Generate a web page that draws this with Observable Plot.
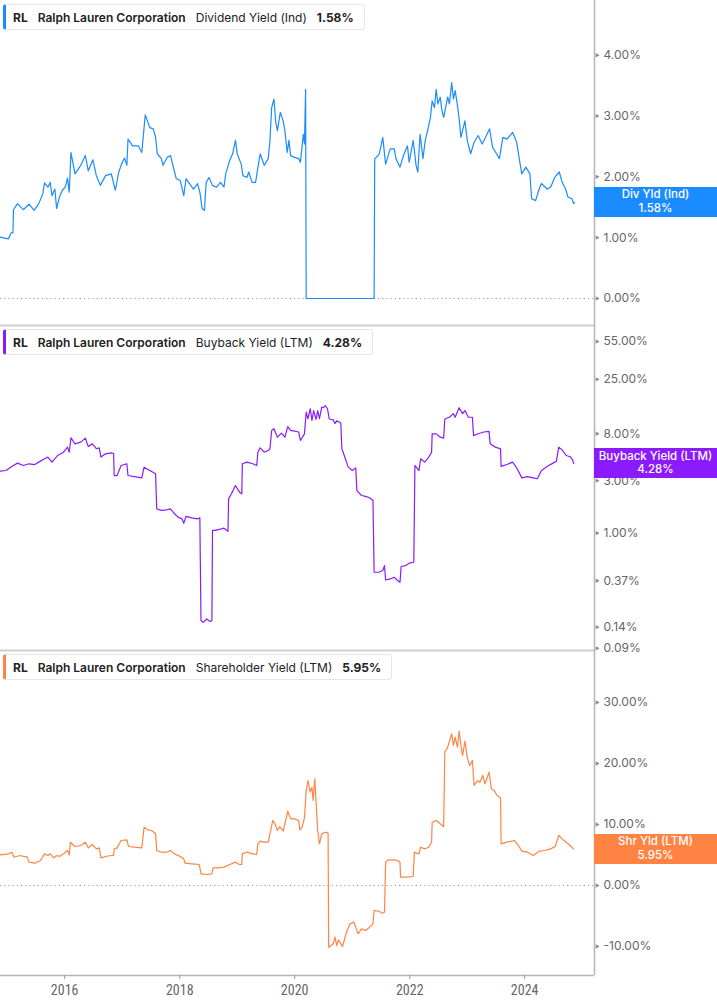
<!DOCTYPE html>
<html><head><meta charset="utf-8">
<script src="https://cdn.jsdelivr.net/npm/d3@7"></script>
<script src="https://cdn.jsdelivr.net/npm/@observablehq/plot@0.6"></script>
<style>
body{margin:0;background:#fff;}
#wrap{position:relative;width:717px;height:1005px;overflow:hidden;font-family:Inter,"Noto Sans",sans-serif;}
.panel{position:absolute;left:0;width:717px;}
.panel svg{display:block;}
.legend{position:absolute;left:3px;top:4px;height:24px;display:flex;align-items:center;background:#fff;border:1px solid #e6e6e6;border-left:3px solid;border-radius:3px;padding:0 10px 0 7px;font-size:12px;color:#222;white-space:nowrap;}
.legend span{margin-right:10px}
.legend .t{font-weight:700;margin-right:10px}
.legend .n{font-weight:600}
.legend .v{font-weight:700;margin-right:0}
.badge{position:absolute;left:594px;width:123px;height:30px;color:#fff;font-size:11.5px;font-weight:500;text-align:center;line-height:13.5px;display:flex;flex-direction:column;justify-content:center;}
</style></head>
<body><div id="wrap"></div>
<script>
// ---- data (decimal year, percent) ----
const ticker = "RL";
const company = "Ralph Lauren Corporation";
const metricNames = ["Dividend Yield (Ind)", "Buyback Yield (LTM)", "Shareholder Yield (LTM)"];
const badgeNames = ["Div Yld (Ind)", "Buyback Yield (LTM)", "Shr Yld (LTM)"];
const lastValues = [1.58, 4.28, 5.95];
const divTicks = [0, 1, 2, 3, 4];
const buybackTicks = [55, 25, 8, 3, 1, 0.37, 0.14, 0.09];
const shrTicks = [-10, 0, 10, 20, 30];
const xTickYears = [2016, 2018, 2020, 2022, 2024];

const dividendYield = [[2014.88,1.01],[2015.02,0.98],[2015.07,1.08],[2015.10,1.08],[2015.11,1.46],[2015.18,1.56],[2015.28,1.46],[2015.38,1.55],[2015.47,1.45],[2015.55,1.56],[2015.62,1.72],[2015.65,1.90],[2015.71,1.83],[2015.75,1.91],[2015.78,1.69],[2015.83,1.80],[2015.86,1.48],[2015.91,1.67],[2015.96,1.78],[2016.01,1.83],[2016.05,1.98],[2016.08,1.75],[2016.11,2.40],[2016.18,2.05],[2016.28,2.19],[2016.36,2.35],[2016.41,2.10],[2016.49,2.28],[2016.55,2.02],[2016.62,1.86],[2016.71,2.02],[2016.81,2.05],[2016.88,1.78],[2016.94,2.08],[2017.00,2.24],[2017.04,2.31],[2017.08,2.19],[2017.10,2.62],[2017.18,2.51],[2017.28,2.51],[2017.34,2.40],[2017.40,3.02],[2017.48,2.81],[2017.54,2.79],[2017.58,2.65],[2017.61,2.38],[2017.68,2.30],[2017.71,2.19],[2017.78,2.32],[2017.84,2.35],[2017.91,2.08],[2017.94,1.97],[2018.01,1.94],[2018.07,1.69],[2018.11,1.97],[2018.17,1.89],[2018.24,1.80],[2018.31,1.89],[2018.35,1.75],[2018.39,1.48],[2018.43,1.45],[2018.46,1.91],[2018.51,1.99],[2018.57,1.86],[2018.64,1.83],[2018.71,1.91],[2018.77,1.83],[2018.80,2.05],[2018.87,2.27],[2018.92,2.38],[2018.97,2.60],[2019.00,2.38],[2019.07,2.21],[2019.10,2.02],[2019.17,1.99],[2019.20,2.08],[2019.26,1.91],[2019.32,1.91],[2019.37,2.21],[2019.40,2.38],[2019.47,2.19],[2019.54,2.30],[2019.57,2.60],[2019.60,3.14],[2019.64,3.28],[2019.67,2.90],[2019.70,2.76],[2019.75,3.06],[2019.80,2.92],[2019.83,2.76],[2019.87,2.40],[2019.90,2.60],[2019.93,2.35],[2020.00,2.32],[2020.07,2.30],[2020.10,2.24],[2020.15,2.70],[2020.17,2.54],[2020.19,3.44],[2020.20,0.00],[2021.38,0.00],[2021.39,2.30],[2021.43,2.33],[2021.47,2.38],[2021.53,2.65],[2021.58,2.21],[2021.66,2.46],[2021.73,2.46],[2021.76,2.30],[2021.83,2.16],[2021.89,2.35],[2021.96,2.51],[2021.99,2.24],[2022.06,2.60],[2022.11,2.19],[2022.14,2.08],[2022.18,2.70],[2022.23,2.30],[2022.27,2.60],[2022.31,2.76],[2022.36,2.98],[2022.39,3.25],[2022.43,3.14],[2022.46,3.44],[2022.49,3.20],[2022.53,3.31],[2022.56,3.09],[2022.59,2.98],[2022.66,3.31],[2022.69,3.20],[2022.73,3.55],[2022.76,3.28],[2022.79,3.42],[2022.83,3.17],[2022.86,2.95],[2022.89,2.65],[2022.96,2.92],[2023.00,2.60],[2023.06,2.38],[2023.12,2.57],[2023.19,2.68],[2023.26,2.54],[2023.32,2.65],[2023.39,2.79],[2023.44,2.49],[2023.51,2.38],[2023.56,2.30],[2023.62,2.65],[2023.69,2.62],[2023.79,2.73],[2023.86,2.57],[2023.91,2.27],[2023.95,2.05],[2024.02,2.16],[2024.09,2.05],[2024.12,1.64],[2024.19,1.61],[2024.25,1.80],[2024.29,1.89],[2024.39,1.80],[2024.45,1.83],[2024.52,1.99],[2024.60,2.08],[2024.65,1.91],[2024.71,1.80],[2024.75,1.67],[2024.82,1.64],[2024.85,1.56],[2024.86,1.58]];

const buybackYield = [[2014.88,3.66],[2014.98,3.71],[2015.08,4.04],[2015.18,4.33],[2015.28,4.12],[2015.38,4.27],[2015.48,4.20],[2015.55,4.42],[2015.65,4.74],[2015.71,4.91],[2015.78,4.42],[2015.88,5.08],[2015.98,5.44],[2016.05,6.05],[2016.08,5.44],[2016.11,7.36],[2016.18,6.48],[2016.28,6.71],[2016.36,7.31],[2016.41,6.12],[2016.48,6.48],[2016.55,5.85],[2016.60,5.95],[2016.63,4.91],[2016.71,5.26],[2016.81,5.37],[2016.85,5.30],[2016.86,3.34],[2016.91,3.34],[2016.98,4.12],[2017.08,4.27],[2017.10,3.34],[2017.21,3.27],[2017.34,3.18],[2017.38,3.98],[2017.48,3.71],[2017.58,3.46],[2017.60,1.66],[2017.68,1.61],[2017.77,1.63],[2017.84,1.66],[2017.91,1.50],[2017.97,1.40],[2018.04,1.35],[2018.07,1.23],[2018.11,1.42],[2018.21,1.38],[2018.31,1.35],[2018.35,1.38],[2018.37,0.161],[2018.41,0.155],[2018.47,0.166],[2018.53,0.158],[2018.56,0.161],[2018.57,1.06],[2018.61,1.06],[2018.71,1.09],[2018.77,1.11],[2018.84,1.04],[2018.85,2.05],[2018.90,2.28],[2018.97,2.71],[2019.04,2.36],[2019.08,2.28],[2019.09,4.27],[2019.17,4.42],[2019.27,4.27],[2019.34,4.12],[2019.36,5.44],[2019.40,5.96],[2019.47,5.44],[2019.54,5.63],[2019.57,5.84],[2019.60,8.58],[2019.64,8.89],[2019.70,7.45],[2019.77,8.10],[2019.83,7.45],[2019.88,9.30],[2019.93,8.58],[2020.00,8.45],[2020.07,8.30],[2020.10,6.95],[2020.17,7.98],[2020.20,12.6],[2020.23,10.9],[2020.27,13.5],[2020.30,10.6],[2020.33,13.0],[2020.37,10.8],[2020.40,13.0],[2020.43,11.0],[2020.47,14.0],[2020.50,13.8],[2020.53,14.4],[2020.57,13.5],[2020.60,10.9],[2020.67,10.7],[2020.70,9.9],[2020.73,10.5],[2020.80,10.0],[2020.82,5.84],[2020.86,5.08],[2020.93,3.98],[2021.00,3.71],[2021.06,3.92],[2021.08,2.44],[2021.16,2.20],[2021.23,2.16],[2021.30,2.10],[2021.36,1.98],[2021.38,0.442],[2021.46,0.442],[2021.53,0.458],[2021.56,0.508],[2021.58,0.376],[2021.66,0.384],[2021.73,0.398],[2021.79,0.371],[2021.83,0.358],[2021.85,0.498],[2021.93,0.508],[2021.99,0.534],[2022.07,0.545],[2022.09,4.12],[2022.16,3.71],[2022.19,4.74],[2022.26,4.42],[2022.33,4.91],[2022.38,5.44],[2022.39,7.98],[2022.46,7.98],[2022.53,7.45],[2022.59,7.30],[2022.61,10.9],[2022.69,11.3],[2022.76,12.2],[2022.79,11.3],[2022.86,13.8],[2022.92,12.2],[2022.96,13.0],[2023.02,11.3],[2023.09,11.3],[2023.11,7.7],[2023.19,8.0],[2023.29,8.3],[2023.38,8.4],[2023.40,6.48],[2023.49,6.05],[2023.58,5.84],[2023.59,4.04],[2023.69,4.21],[2023.79,4.42],[2023.86,3.93],[2023.95,3.18],[2024.05,3.27],[2024.15,3.18],[2024.22,3.12],[2024.29,3.71],[2024.39,4.04],[2024.49,4.33],[2024.55,4.51],[2024.59,6.05],[2024.65,5.71],[2024.72,5.08],[2024.79,4.95],[2024.83,4.64],[2024.85,4.28]];

const shareholderYield = [[2014.88,5.03],[2015.02,5.19],[2015.08,5.46],[2015.12,4.64],[2015.22,4.92],[2015.35,4.64],[2015.38,3.83],[2015.48,3.66],[2015.58,4.10],[2015.65,5.19],[2015.71,4.92],[2015.75,5.19],[2015.81,4.54],[2015.87,4.92],[2015.91,4.75],[2015.98,5.19],[2016.05,5.74],[2016.08,5.03],[2016.10,7.10],[2016.18,6.39],[2016.28,6.56],[2016.36,7.10],[2016.41,6.17],[2016.48,6.72],[2016.55,6.01],[2016.60,6.17],[2016.63,4.54],[2016.71,4.75],[2016.81,4.92],[2016.85,4.92],[2016.86,6.01],[2016.91,6.17],[2016.98,7.38],[2017.08,7.49],[2017.11,6.39],[2017.21,6.28],[2017.34,6.17],[2017.38,9.56],[2017.44,9.13],[2017.51,9.02],[2017.58,8.47],[2017.60,5.74],[2017.68,5.46],[2017.77,5.46],[2017.84,5.74],[2017.91,5.19],[2018.01,4.75],[2018.07,4.37],[2018.09,3.66],[2018.21,3.55],[2018.34,3.44],[2018.37,1.91],[2018.47,1.80],[2018.56,1.91],[2018.58,2.90],[2018.67,2.90],[2018.77,3.01],[2018.87,3.44],[2018.97,3.83],[2019.04,3.44],[2019.08,3.44],[2019.09,5.19],[2019.17,5.46],[2019.27,5.19],[2019.34,5.08],[2019.36,6.83],[2019.40,7.27],[2019.47,7.10],[2019.54,7.10],[2019.57,8.47],[2019.62,10.66],[2019.66,10.11],[2019.70,9.02],[2019.74,9.67],[2019.80,8.91],[2019.83,10.11],[2019.88,12.19],[2019.93,10.93],[2020.00,10.93],[2020.07,10.66],[2020.09,9.13],[2020.13,9.56],[2020.17,11.09],[2020.20,15.57],[2020.23,17.21],[2020.27,15.30],[2020.30,16.12],[2020.32,13.93],[2020.35,17.49],[2020.37,13.93],[2020.40,9.02],[2020.43,6.83],[2020.47,8.47],[2020.53,8.74],[2020.58,8.58],[2020.59,-10.11],[2020.67,-9.56],[2020.70,-8.47],[2020.73,-9.84],[2020.76,-8.91],[2020.83,-10.0],[2020.90,-7.65],[2020.96,-6.28],[2021.03,-6.01],[2021.10,-7.92],[2021.16,-7.10],[2021.23,-7.38],[2021.30,-6.83],[2021.36,-6.28],[2021.38,-4.10],[2021.46,-4.21],[2021.53,-4.54],[2021.56,-4.37],[2021.58,3.83],[2021.63,4.21],[2021.73,4.21],[2021.79,4.10],[2021.83,3.83],[2021.84,1.37],[2021.93,1.37],[2022.06,1.48],[2022.08,5.46],[2022.16,5.19],[2022.19,6.28],[2022.26,6.01],[2022.33,6.28],[2022.38,7.10],[2022.39,10.38],[2022.46,10.66],[2022.53,10.11],[2022.59,9.67],[2022.61,21.86],[2022.66,22.68],[2022.73,24.86],[2022.76,22.95],[2022.79,24.32],[2022.83,22.68],[2022.86,25.30],[2022.89,22.95],[2022.92,21.31],[2022.96,23.66],[2023.00,21.04],[2023.04,19.67],[2023.09,20.49],[2023.12,16.39],[2023.18,17.21],[2023.22,16.94],[2023.27,18.03],[2023.31,16.67],[2023.38,18.58],[2023.42,15.85],[2023.47,15.57],[2023.52,14.75],[2023.58,14.37],[2023.59,6.83],[2023.69,7.10],[2023.82,7.38],[2023.89,6.56],[2023.95,5.63],[2024.05,5.46],[2024.15,4.92],[2024.25,5.63],[2024.35,5.74],[2024.45,6.01],[2024.53,6.39],[2024.59,8.20],[2024.65,7.65],[2024.72,7.10],[2024.79,6.56],[2024.85,5.95]];

const colors = ["#1a8cff", "#8c1aff", "#ff8444"];

// ---- drawing ----
const toDate = y => { const yr = Math.floor(y), s = Date.UTC(yr,0,1), e = Date.UTC(yr+1,0,1); return new Date(s + (y - yr) * (e - s)); };
const xDomain = [toDate(2014.884), toDate(2025.212)];
const pct = d => d.toFixed(2) + "%";
const wrap = document.getElementById("wrap");

const panels = [
  {series: dividendYield, top: 0, height: 325, mb: 0, y: {domain: [-0.444, 4.90]}, ticks: divTicks, zero: true},
  {series: buybackYield, top: 325, height: 325, mb: 0, y: {type: "log", domain: [0.086, 77]}, ticks: buybackTicks, zero: false},
  {series: shareholderYield, top: 650, height: 355, mb: 30, y: {domain: [-14.75, 38.52]}, ticks: shrTicks, zero: true, xaxis: true}
];

panels.forEach((p, i) => {
  const data = p.series.map(([t, v]) => ({date: toDate(t), v}));
  const marks = [];
  if (p.zero) marks.push(Plot.ruleY([0], {stroke: "#9a9a9a", strokeWidth: 1, strokeDasharray: "1.2,3"}));
  marks.push(Plot.lineY(data, {x: "date", y: "v", stroke: colors[i], strokeWidth: 1.2}));
  // right-hand value axis: small triangle ticks + labels
  marks.push(Plot.dot(p.ticks, {x: () => xDomain[1], y: d => d, symbol: "triangle", r: 1.6, rotate: 90, dx: 2.5, fill: "#888", stroke: null}));
  marks.push(Plot.text(p.ticks, {x: () => xDomain[1], y: d => d, text: pct, dx: 9, textAnchor: "start", fontSize: 12, fill: "#666"}));
  marks.push(Plot.ruleY([p.y.domain[0]], {stroke: p.xaxis ? "#b5b5b5" : "#cfcfcf", strokeWidth: p.xaxis ? 1.5 : 2}));
  marks.push(Plot.ruleX([xDomain[1]], {stroke: "#b5b5b5", strokeWidth: 1.5}));
  if (p.xaxis) {
    marks.push(Plot.axisX(xTickYears.map(toDate), {anchor: "bottom", label: null, tickSize: 4, tickPadding: 6, tickFormat: d3.utcFormat("%Y"), fontSize: 14, fontFamily: "'Roboto Condensed','DejaVu Sans Condensed','Liberation Sans Narrow',Roboto,sans-serif", stroke: "#999", fill: "#666"}));
  }
  const chart = Plot.plot({
    width: 717, height: p.height,
    marginLeft: 0, marginRight: 123, marginTop: 0, marginBottom: p.mb,
    x: {type: "utc", domain: xDomain, axis: null},
    y: {...p.y, axis: null},
    style: {fontFamily: "Inter, 'Noto Sans', sans-serif", color: "#666", background: "transparent", overflow: "visible"},
    marks
  });
  const div = document.createElement("div");
  div.className = "panel";
  div.style.top = p.top + "px";
  div.style.height = p.height + "px";
  div.appendChild(chart);
  wrap.appendChild(div);

  // legend
  const lg = document.createElement("div");
  lg.className = "legend";
  lg.style.borderLeftColor = colors[i];
  lg.innerHTML = `<span class="t">${ticker}</span><span class="n">${company}</span><span class="m">${metricNames[i]}</span><span class="v">${lastValues[i].toFixed(2)}%</span>`;
  div.appendChild(lg);

  // badge (positioned with the chart's own y scale)
  const yy = chart.scale("y").apply(lastValues[i]);
  const b = document.createElement("div");
  b.className = "badge";
  b.style.background = colors[i];
  b.style.top = (yy - 15) + "px";
  b.innerHTML = `<div>${badgeNames[i]}</div><div>${lastValues[i].toFixed(2)}%</div>`;
  div.appendChild(b);
});
</script>
</body></html>
